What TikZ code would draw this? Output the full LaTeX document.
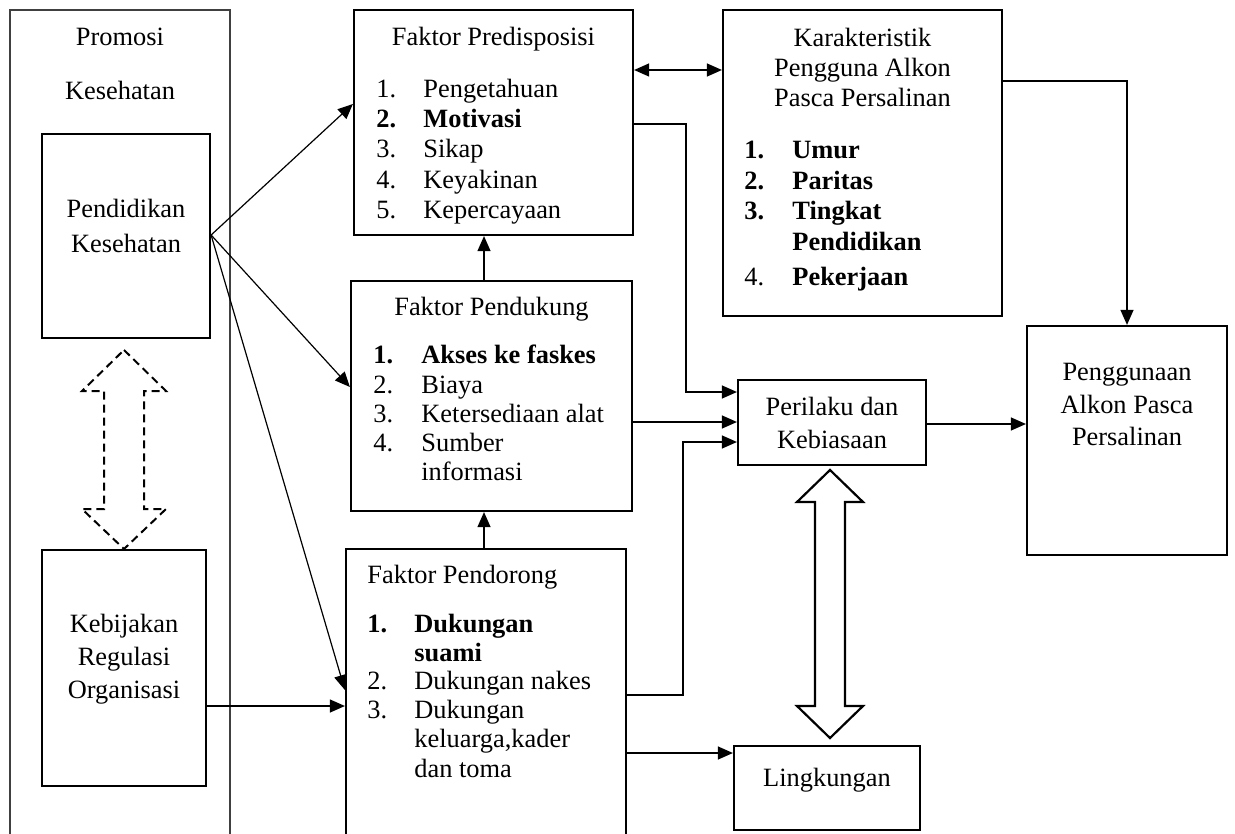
\documentclass[tikz,border=0pt]{standalone}
\usepackage{fontspec}
\setmainfont{Liberation Serif}
\usetikzlibrary{arrows.meta,fit}
\begin{document}
\begin{tikzpicture}[x=0.5pt,y=-0.5pt,
 box/.style={draw, line width=1.1pt, inner sep=0pt},
 outerbox/.style={draw=black!75, line width=0.6pt, inner sep=0pt},
 conn/.style={line width=0.6pt},
 arr/.style={conn,-{Triangle[length=7.5pt,width=6.5pt]}},
 darr/.style={conn,{Triangle[length=7.5pt,width=6.5pt]}-{Triangle[length=7.5pt,width=6.5pt]}},
 txt/.style={inner sep=0pt, anchor=base, font=\fontsize{13.2}{15}\selectfont},
 ltxt/.style={txt, anchor=base west},
 bigarrow/.style={draw, line width=1.1pt, fill=white, line join=miter},
 dasharrow/.style={draw, line width=1pt, dash pattern=on 4pt off 2.5pt},
]
\clip (0,0) rectangle (1235,834);
\fill[white] (0,0) rectangle (1235,834);

% ---------- boxes ----------
\node[outerbox, fit={(10,10) (230,900)}] (promosi) {};
\node[box, fit={(42,134) (210,338)}] (pdk) {};
\node[box, fit={(42,550) (206,786)}] (keb) {};
\node[box, fit={(354,10) (633,235)}] (pred) {};
\node[box, fit={(351,281) (632,511)}] (pend) {};
\node[box, fit={(346,549) (626,900)}] (pdr) {};
\node[box, fit={(723,10) (1002,316)}] (kar) {};
\node[box, fit={(738,380) (926,465)}] (per) {};
\node[box, fit={(734,746) (920,830)}] (ling) {};
\node[box, fit={(1027,326) (1227,555)}] (peng) {};

% ---------- left column text ----------
\node[txt] (tpro1) at (120,46) {Promosi};
\node[txt] (tpro2) at (120,100) {Kesehatan};
\node[txt] (tpdk1) at (126,218) {Pendidikan};
\node[txt] (tpdk2) at (126,252) {Kesehatan};
\node[txt] (tkeb1) at (124,632) {Kebijakan};
\node[txt] (tkeb2) at (124,665) {Regulasi};
\node[txt] (tkeb3) at (124,698) {Organisasi};

% ---------- Faktor Predisposisi ----------
\node[txt] (tpred) at (493.5,46) {Faktor Predisposisi};
\node[ltxt] (pn1) at (376,98) {1.};
\node[ltxt] (pi1) at (423,98) {Pengetahuan};
\node[ltxt] (pn2) at (376,128) {\bfseries 2.};
\node[ltxt] (pi2) at (423,128) {\bfseries Motivasi};
\node[ltxt] (pn3) at (376,158) {3.};
\node[ltxt] (pi3) at (423,158) {Sikap};
\node[ltxt] (pn4) at (376,189) {4.};
\node[ltxt] (pi4) at (423,189) {Keyakinan};
\node[ltxt] (pn5) at (376,219) {5.};
\node[ltxt] (pi5) at (423,219) {Kepercayaan};

% ---------- Faktor Pendukung ----------
\node[txt] (tpend) at (491.5,315) {Faktor Pendukung};
\node[ltxt] (dn1) at (373,363) {\bfseries 1.};
\node[ltxt] (di1) at (421,363) {\bfseries Akses ke faskes};
\node[ltxt] (dn2) at (373,393) {2.};
\node[ltxt] (di2) at (421,393) {Biaya};
\node[ltxt] (dn3) at (373,422) {3.};
\node[ltxt] (di3) at (421,422) {Ketersediaan alat};
\node[ltxt] (dn4) at (373,451) {4.};
\node[ltxt] (di4) at (421,451) {Sumber};
\node[ltxt] (di4b) at (421,480) {informasi};

% ---------- Faktor Pendorong ----------
\node[ltxt] (tpdr) at (367,583) {Faktor Pendorong};
\node[ltxt] (rn1) at (367,632) {\bfseries 1.};
\node[ltxt] (ri1) at (414,632) {\bfseries Dukungan};
\node[ltxt] (ri1b) at (414,661) {\bfseries suami};
\node[ltxt] (rn2) at (367,689) {2.};
\node[ltxt] (ri2) at (414,689) {Dukungan nakes};
\node[ltxt] (rn3) at (367,718) {3.};
\node[ltxt] (ri3) at (414,718) {Dukungan};
\node[ltxt] (ri3b) at (414,747) {keluarga,kader};
\node[ltxt] (ri3c) at (414,777) {dan toma};

% ---------- Karakteristik ----------
\node[txt] (tkar1) at (862.5,47) {Karakteristik};
\node[txt] (tkar2) at (862.5,77) {Pengguna Alkon};
\node[txt] (tkar3) at (862.5,107) {Pasca Persalinan};
\node[ltxt] (kn1) at (744,159) {\bfseries 1.};
\node[ltxt] (ki1) at (792,159) {\bfseries Umur};
\node[ltxt] (kn2) at (744,190) {\bfseries 2.};
\node[ltxt] (ki2) at (792,190) {\bfseries Paritas};
\node[ltxt] (kn3) at (744,220) {\bfseries 3.};
\node[ltxt] (ki3) at (792,220) {\bfseries Tingkat};
\node[ltxt] (ki3b) at (792,250) {\bfseries Pendidikan};
\node[ltxt] (kn4) at (744,285) {4.};
\node[ltxt] (ki4) at (792,285) {\bfseries Pekerjaan};

% ---------- right boxes text ----------
\node[txt] (tper1) at (832,415) {Perilaku dan};
\node[txt] (tper2) at (832,448) {Kebiasaan};
\node[txt] (tling) at (827,786) {Lingkungan};
\node[txt] (tpeng1) at (1127,380) {Penggunaan};
\node[txt] (tpeng2) at (1127,413) {Alkon Pasca};
\node[txt] (tpeng3) at (1127,445) {Persalinan};

% ---------- big arrows ----------
\draw[dasharrow] (124,350) -- (166,391) -- (144,391) -- (144,509) -- (166,509)
  -- (124,549) -- (82,509) -- (104,509) -- (104,391) -- (82,391) -- cycle;
\draw[bigarrow] (830,470) -- (863,502) -- (845,502) -- (845,706) -- (863,706)
  -- (830,738) -- (797,706) -- (815,706) -- (815,502) -- (797,502) -- cycle;

% ---------- connectors ----------
\coordinate (src) at (pdk.east |- {(0,235)});
\draw[arr] (src) -- (pred.west |- {(0,104)});
\draw[arr] (src) -- (pend.west |- {(0,387)});
\draw[arr] (src) -- (pdr.west |- {(0,690)});
\draw[arr] (keb.east |- {(0,706)}) -- (pdr.west |- {(0,706)});
\draw[darr] (pred.east |- {(0,70)}) -- (kar.west |- {(0,70)});
\draw[arr] (pend.north -| {(484,0)}) -- (pred.south -| {(484,0)});
\draw[arr] (pdr.north -| {(484,0)}) -- (pend.south -| {(484,0)});
\draw[arr] (pred.east |- {(0,124)}) -| (686,392) -- (per.west |- {(0,392)});
\draw[arr] (pend.east |- {(0,422)}) -- (per.west |- {(0,422)});
\draw[arr] (pdr.east |- {(0,695)}) -| (683,442) -- (per.west |- {(0,442)});
\draw[arr] (pdr.east |- {(0,753)}) -- (ling.west |- {(0,753)});
\draw[arr] (per.east |- {(0,424)}) -- (peng.west |- {(0,424)});
\draw[arr] (kar.east |- {(0,81)}) -| (peng.north);
\end{tikzpicture}
\end{document}
